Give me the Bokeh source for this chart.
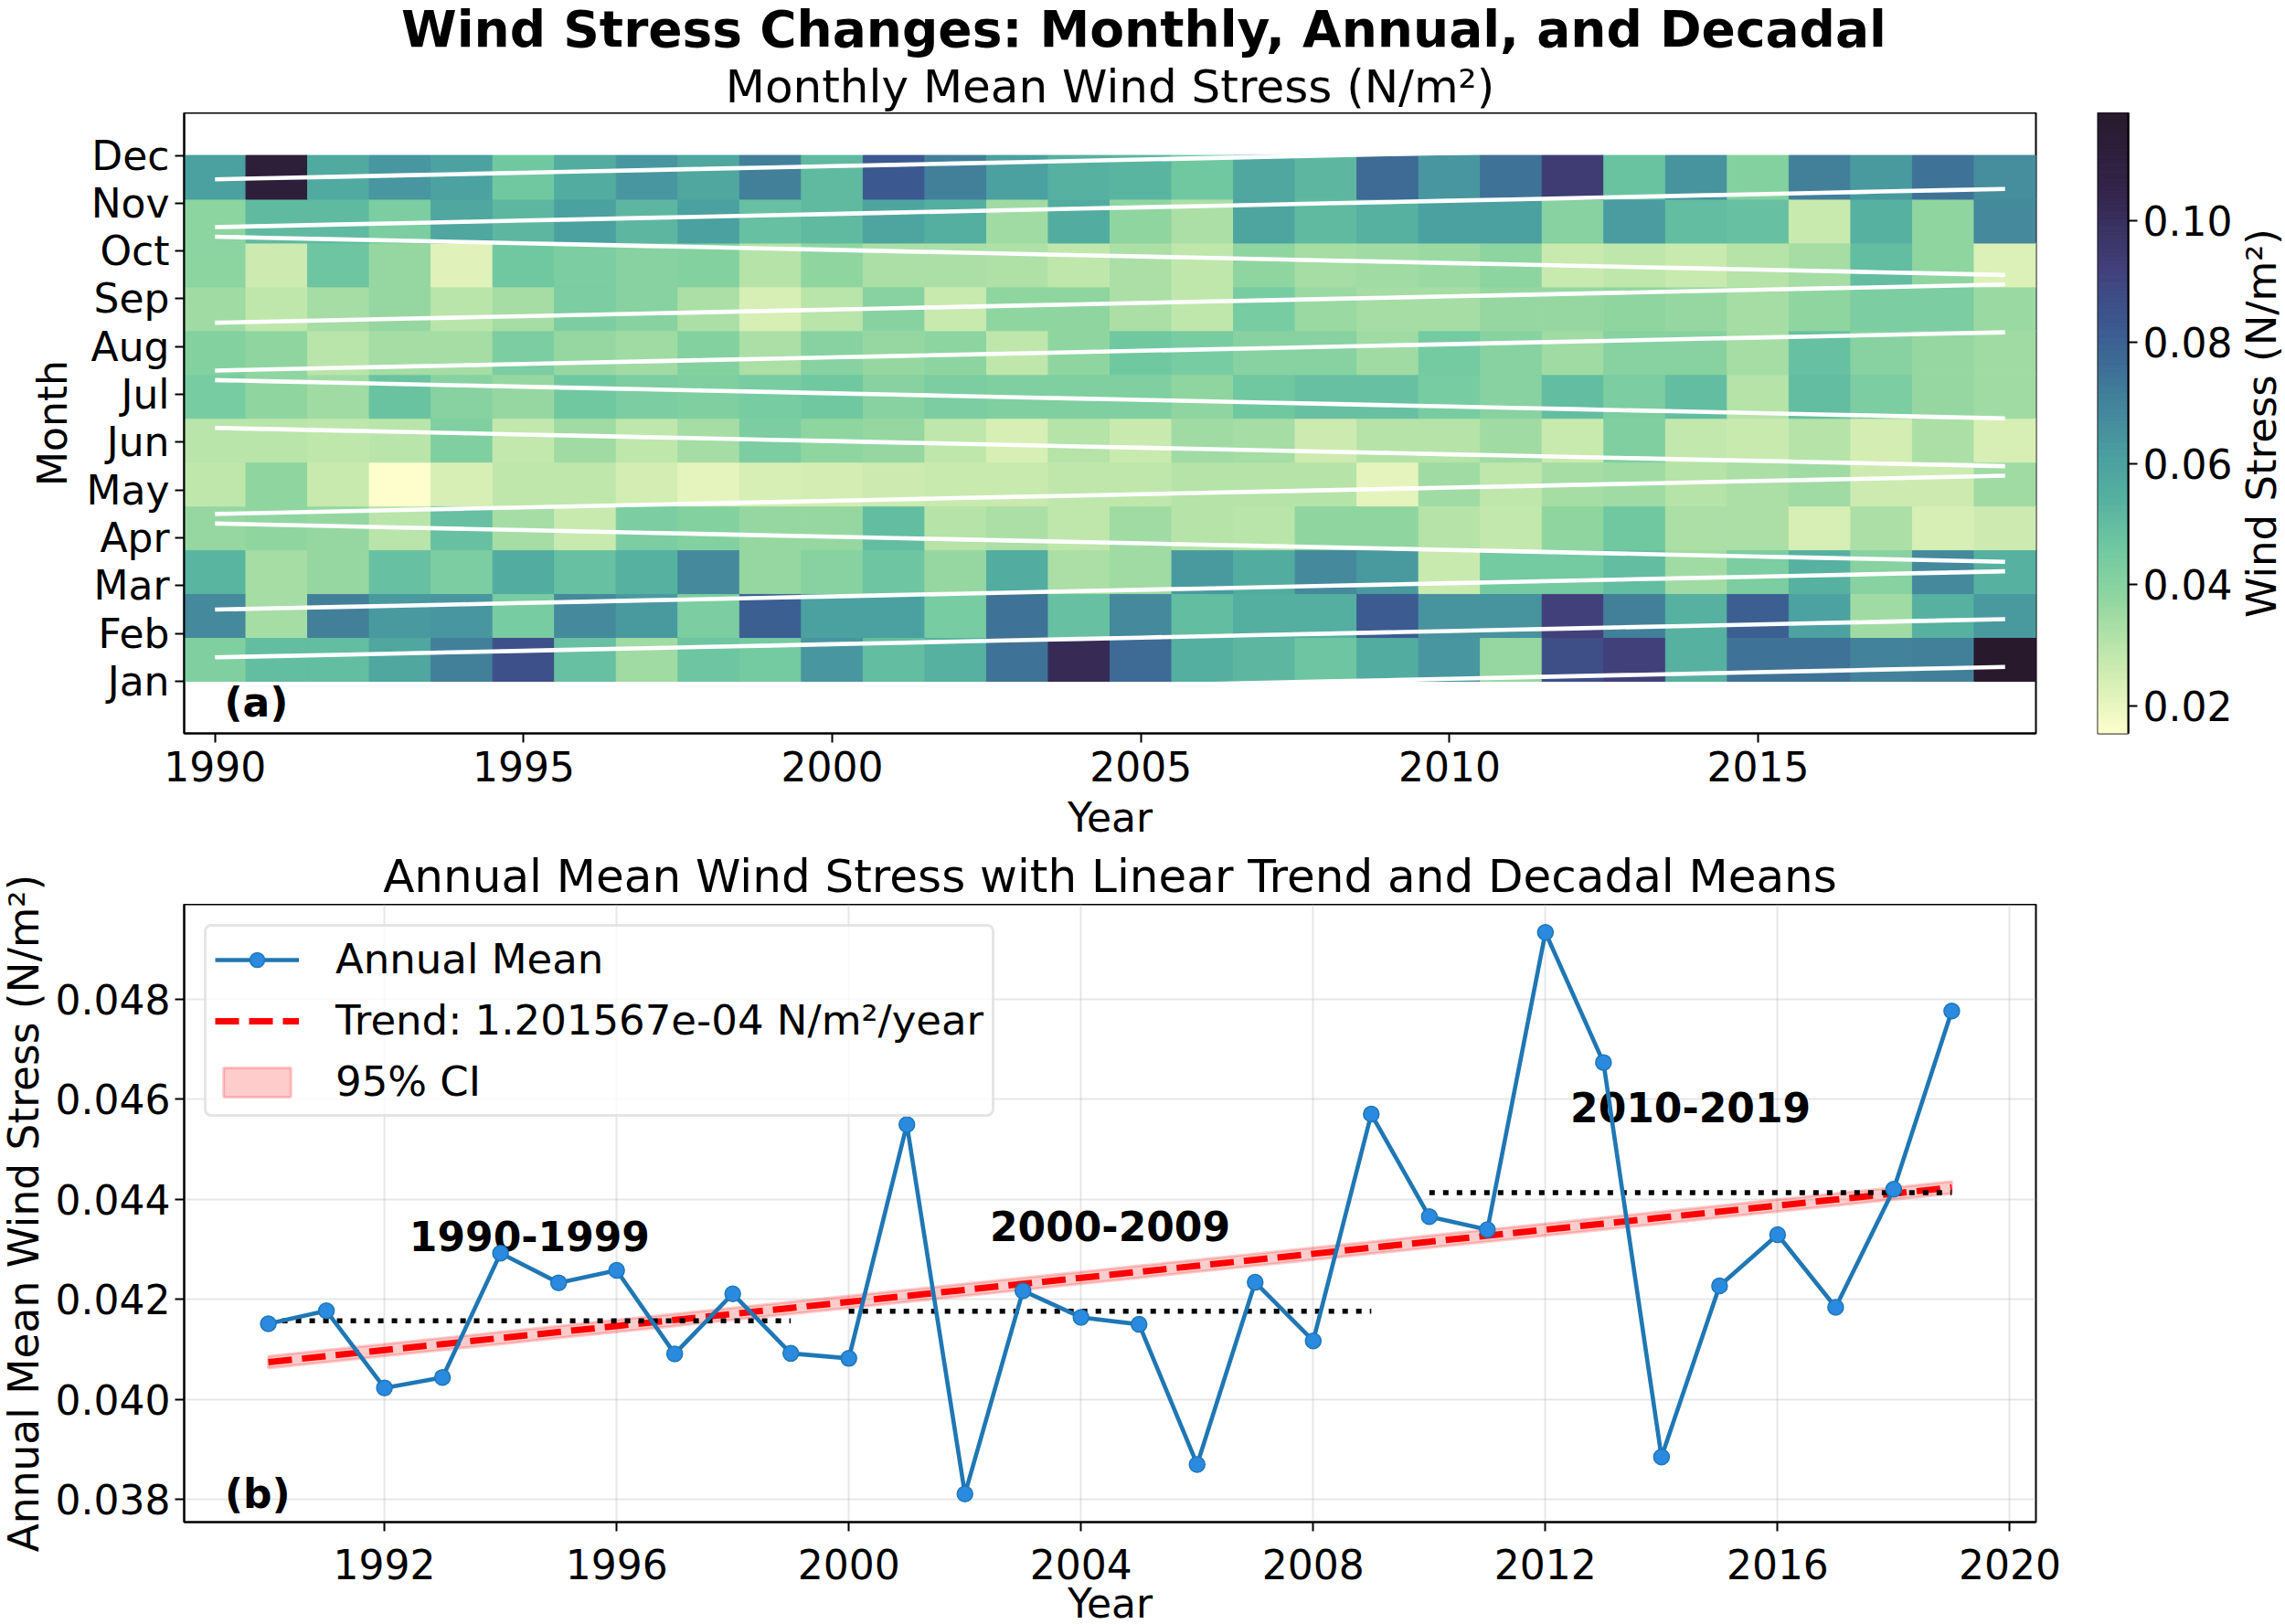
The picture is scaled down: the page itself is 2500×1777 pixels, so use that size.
import math
import numpy as np
from bokeh.plotting import figure
from bokeh.models import (Legend, LegendItem, FixedTicker, NumeralTickFormatter,
                          LinearColorMapper, ColumnDataSource)
from bokeh.layouts import row, column
from bokeh.embed import file_html
from bokeh.resources import INLINE
from bokeh.core.properties import value

FONT = "DejaVu Sans"

# ---------------- data ----------------
years = list(range(1990, 2020))
month_names = ["Jan", "Feb", "Mar", "Apr", "May", "Jun", "Jul", "Aug", "Sep", "Oct", "Nov", "Dec"]

stress_jan = [0.042, 0.050, 0.050, 0.058, 0.071, 0.086, 0.049, 0.035, 0.047, 0.045, 0.064, 0.050, 0.054, 0.075, 0.102,
              0.077, 0.055, 0.052, 0.047, 0.056, 0.064, 0.037, 0.087, 0.092, 0.054, 0.075, 0.075, 0.070, 0.071, 0.1178]
stress_feb = [0.068, 0.034, 0.071, 0.063, 0.064, 0.044, 0.068, 0.063, 0.043, 0.081, 0.061, 0.061, 0.044, 0.075, 0.049,
              0.068, 0.050, 0.055, 0.055, 0.082, 0.065, 0.065, 0.092, 0.071, 0.054, 0.081, 0.060, 0.035, 0.054, 0.063]
stress_mar = [0.053, 0.034, 0.037, 0.049, 0.043, 0.056, 0.049, 0.054, 0.068, 0.037, 0.040, 0.047, 0.037, 0.056, 0.033,
              0.035, 0.063, 0.056, 0.068, 0.063, 0.027, 0.045, 0.045, 0.050, 0.035, 0.043, 0.054, 0.040, 0.068, 0.054]
stress_apr = [0.037, 0.038, 0.037, 0.030, 0.049, 0.034, 0.027, 0.043, 0.041, 0.037, 0.037, 0.050, 0.031, 0.033, 0.029,
              0.035, 0.031, 0.030, 0.038, 0.038, 0.031, 0.028, 0.038, 0.046, 0.033, 0.033, 0.024, 0.033, 0.024, 0.026]
stress_may = [0.029, 0.038, 0.027, 0.0155, 0.024, 0.029, 0.029, 0.025, 0.021, 0.024, 0.025, 0.026, 0.027, 0.027, 0.029,
              0.029, 0.031, 0.031, 0.031, 0.021, 0.035, 0.029, 0.034, 0.035, 0.031, 0.033, 0.035, 0.026, 0.026, 0.035]
stress_jun = [0.030, 0.030, 0.029, 0.030, 0.042, 0.028, 0.035, 0.029, 0.034, 0.043, 0.038, 0.037, 0.029, 0.024, 0.031,
              0.027, 0.035, 0.034, 0.026, 0.031, 0.031, 0.035, 0.027, 0.042, 0.028, 0.027, 0.031, 0.025, 0.033, 0.024]
stress_jul = [0.044, 0.038, 0.035, 0.048, 0.040, 0.037, 0.046, 0.043, 0.042, 0.044, 0.046, 0.040, 0.043, 0.042, 0.042,
              0.042, 0.038, 0.046, 0.049, 0.049, 0.044, 0.040, 0.050, 0.043, 0.050, 0.031, 0.050, 0.043, 0.037, 0.035]
stress_aug = [0.041, 0.038, 0.030, 0.034, 0.034, 0.043, 0.037, 0.035, 0.041, 0.033, 0.040, 0.037, 0.039, 0.029, 0.038,
              0.046, 0.044, 0.040, 0.040, 0.035, 0.045, 0.040, 0.035, 0.040, 0.040, 0.034, 0.049, 0.040, 0.037, 0.035]
stress_sep = [0.035, 0.029, 0.034, 0.037, 0.030, 0.034, 0.043, 0.040, 0.033, 0.024, 0.030, 0.040, 0.027, 0.038, 0.038,
              0.033, 0.029, 0.044, 0.036, 0.034, 0.034, 0.037, 0.037, 0.038, 0.037, 0.034, 0.038, 0.043, 0.043, 0.036]
stress_oct = [0.039, 0.026, 0.047, 0.037, 0.022, 0.046, 0.043, 0.040, 0.041, 0.031, 0.038, 0.033, 0.033, 0.032, 0.029,
              0.033, 0.029, 0.038, 0.034, 0.035, 0.036, 0.039, 0.027, 0.029, 0.027, 0.031, 0.034, 0.050, 0.038, 0.023]
stress_nov = [0.039, 0.051, 0.051, 0.043, 0.058, 0.052, 0.061, 0.052, 0.061, 0.049, 0.051, 0.059, 0.055, 0.035, 0.056,
              0.038, 0.033, 0.059, 0.051, 0.054, 0.061, 0.061, 0.040, 0.062, 0.050, 0.049, 0.027, 0.054, 0.038, 0.068]
stress_dec = [0.061, 0.112, 0.057, 0.064, 0.060, 0.046, 0.056, 0.064, 0.058, 0.071, 0.051, 0.083, 0.071, 0.061, 0.054,
              0.053, 0.046, 0.058, 0.052, 0.077, 0.064, 0.075, 0.094, 0.048, 0.065, 0.041, 0.071, 0.063, 0.075, 0.067]
monthly = [stress_jan, stress_feb, stress_mar, stress_apr, stress_may, stress_jun,
           stress_jul, stress_aug, stress_sep, stress_oct, stress_nov, stress_dec]

# direction of each month's trend line (+1 rising, -1 falling)
month_trend_sign = [1, 1, 1, -1, 1, -1, -1, 1, 1, -1, 1, 1]

annual_mean = [0.04151, 0.04177, 0.04023, 0.04044, 0.04292, 0.04233, 0.04258, 0.04091, 0.04211, 0.04092,
               0.04082, 0.04549, 0.03811, 0.04217, 0.04164, 0.04150, 0.03870, 0.04234, 0.04117, 0.04570,
               0.04365, 0.04339, 0.04933, 0.04673, 0.03885, 0.04227, 0.04329, 0.04184, 0.04420, 0.04776]
ci_half_width = 0.00012
decade_starts = [1990, 2000, 2010]
decade_labels = ["1990-1999", "2000-2009", "2010-2019"]
trend_label = "Trend: 1.201567e-04 N/m²/year"
cbar_ticks = [0.02, 0.04, 0.06, 0.08, 0.10]
heat_xticks = [1990, 1995, 2000, 2005, 2010, 2015]
bot_xticks = [1992, 1996, 2000, 2004, 2008, 2012, 2016, 2020]
bot_yticks = [0.038, 0.040, 0.042, 0.044, 0.046, 0.048]

main_title = "Wind Stress Changes: Monthly, Annual, and Decadal"
title_a = "Monthly Mean Wind Stress (N/m²)"
title_b = "Annual Mean Wind Stress with Linear Trend and Decadal Means"
cbar_title = "Wind Stress (N/m²)"
ylabel_b = "Annual Mean Wind Stress (N/m²)"

# ---------------- colormap (deep-like) ----------------
deep_pos = [0.0, 0.08, 0.15, 0.22, 0.30, 0.38, 0.45, 0.52, 0.60, 0.66, 0.75, 0.88, 1.0]
deep_hex = ["#FDFECC", "#D8EFB4", "#B5E3A8", "#8FD5A0", "#6FC8A1", "#55B0A0", "#4A9EA0",
            "#44879C", "#3D6B95", "#3C5890", "#41407A", "#33244A", "#281A2C"]


def _rgb(h):
    return [int(h[k:k + 2], 16) for k in (1, 3, 5)]


_rgb_arr = np.array([_rgb(h) for h in deep_hex], dtype=float)
palette = []
for tt in np.linspace(0, 1, 256):
    c = [int(round(np.interp(tt, deep_pos, _rgb_arr[:, k]))) for k in range(3)]
    palette.append("#%02x%02x%02x" % tuple(c))

all_vals = [v for s in monthly for v in s]
vmin, vmax = min(all_vals), max(all_vals)
mapper = LinearColorMapper(palette=palette, low=vmin, high=vmax)


def style_axis(ax, standoff=6, label_standoff=5):
    ax.major_label_text_font = FONT
    ax.major_label_text_font_size = "44px"
    ax.major_label_text_color = "black"
    ax.axis_label_text_font = FONT
    ax.axis_label_text_font_size = "44px"
    ax.axis_label_text_font_style = "normal"
    ax.axis_label_text_color = "black"
    ax.axis_line_color = "black"
    ax.axis_line_width = 2
    ax.major_tick_line_color = "black"
    ax.major_tick_line_width = 2
    ax.major_tick_out = 10
    ax.major_tick_in = 0
    ax.minor_tick_line_color = None
    ax.major_label_standoff = standoff
    ax.axis_label_standoff = label_standoff


def text_canvas(width, height, x_range=None, y_range=None, **borders):
    """A blank figure used only to hold text (no axes, grid or outline)."""
    opts = dict(min_border=0)
    opts.update(borders)
    f = figure(width=width, height=height,
               x_range=x_range if x_range is not None else (0, width),
               y_range=y_range if y_range is not None else (0, height),
               x_axis_location=None, y_axis_location=None, toolbar_location=None,
               output_backend="svg", **opts)
    f.grid.visible = False
    f.outline_line_color = None
    return f


PAGE_W = 2500
PAGE_H = 1777
FRAME_L = 201
FRAME_W = 2026

# ---------------- header (main title + subtitle of panel a) ----------------
HEAD_H = 123
header = text_canvas(PAGE_W, HEAD_H)
header.text(x=[1251], y=[HEAD_H - 51 + 20], text=[main_title], text_font=value(FONT), text_font_size="55px",
            text_font_style="bold", text_align="center", text_baseline="alphabetic", text_color="black")
header.text(x=[FRAME_L + FRAME_W / 2], y=[HEAD_H - 108 + 14], text=[title_a], text_font=value(FONT),
            text_font_size="50px", text_align="center", text_baseline="alphabetic", text_color="black")

# ---------------- panel (a): heatmap ----------------
row_edges = np.linspace(0, 11, len(month_names) + 1)
lefts, rights, bottoms, tops, vals = [], [], [], [], []
for i, series in enumerate(monthly):
    for yr, v in zip(years, series):
        lefts.append(yr - 0.5)
        rights.append(yr + 0.5)
        bottoms.append(row_edges[i])
        tops.append(row_edges[i + 1])
        vals.append(v)
heat_src = ColumnDataSource(dict(left=lefts, right=rights, bottom=bottoms, top=tops, value=vals))

mid_year = (years[0] + years[-1]) / 2.0
half_span = (years[-1] - years[0]) / 2.0
line_xs = [list(years) for _ in month_names]
line_ys = [[i - 0.1 + 0.4 * s * (yr - mid_year) / half_span for yr in years]
           for i, s in enumerate(month_trend_sign)]
ylo = min(min(l) for l in line_ys)
yhi = max(max(l) for l in line_ys)
ypad = 0.05 * (yhi - ylo)

HEAT_H = 806
HEAT_BOTTOM = 127
heat = figure(width=2262, height=HEAT_H, x_range=(years[0] - 0.5, years[-1] + 0.5),
              y_range=(ylo - ypad, yhi + ypad), toolbar_location=None, output_backend="svg",
              min_border_left=FRAME_L, min_border_right=2262 - FRAME_L - FRAME_W,
              min_border_top=0, min_border_bottom=HEAT_BOTTOM)
heat.quad(left="left", right="right", bottom="bottom", top="top", source=heat_src,
          fill_color={"field": "value", "transform": mapper},
          line_color={"field": "value", "transform": mapper}, line_width=1)
heat.multi_line(line_xs, line_ys, line_color="white", line_width=4.6)
heat.text(x=[1990.15], y=[-0.44], text=["(a)"], text_font=value(FONT), text_font_size="44px",
          text_font_style="bold", text_align="left", text_baseline="alphabetic", text_color="black")
heat.grid.visible = False
heat.outline_line_color = "black"
heat.outline_line_width = 2
heat.outline_line_alpha = 1
style_axis(heat.xaxis[0], standoff=9, label_standoff=11)
style_axis(heat.yaxis[0], standoff=6, label_standoff=9)
heat.xaxis.ticker = FixedTicker(ticks=heat_xticks)
heat.yaxis.ticker = FixedTicker(ticks=list(range(12)))
heat.yaxis.major_label_overrides = {i: m for i, m in enumerate(month_names)}
heat.xaxis.axis_label = "Year"
heat.yaxis.axis_label = "Month"

# ---------------- colorbar ----------------
cbar = figure(width=183, height=HEAT_H, x_range=(0, 1), y_range=(vmin, vmax),
              x_axis_location=None, y_axis_location="right", toolbar_location=None,
              output_backend="svg", min_border_left=33, min_border_right=116,
              min_border_top=0, min_border_bottom=HEAT_BOTTOM)
levels = np.linspace(vmin, vmax, len(palette) + 1)
cbar.quad(left=0, right=1, bottom=levels[:-1], top=levels[1:], fill_color=palette,
          line_color=palette, line_width=1)
cbar.grid.visible = False
cbar.outline_line_color = "black"
cbar.outline_line_width = 2
cbar.outline_line_alpha = 1
style_axis(cbar.yaxis[0], standoff=6)
cbar.yaxis.ticker = FixedTicker(ticks=cbar_ticks)
cbar.yaxis.formatter = NumeralTickFormatter(format="0.00")

# colorbar label: its frame lines up with the colorbar's frame
cbar_lab = text_canvas(55, HEAT_H, x_range=(0, 55), y_range=(vmin, vmax),
                       min_border_top=0, min_border_bottom=HEAT_BOTTOM)
cbar_lab.text(x=[29], y=[(vmin + vmax) / 2.0], text=[cbar_title], angle=math.pi / 2,
              text_font=value(FONT), text_font_size="45px", text_align="center",
              text_baseline="middle", text_color="black")

# ---------------- lower section ----------------
LEFT_W = 52
INNER_W = PAGE_W - LEFT_W
TITLE_B_H = 60
BOT_BOTTOM = 12
BOT_H = 676 + BOT_BOTTOM
XLAB_H = PAGE_H - (HEAD_H + HEAT_H + TITLE_B_H + BOT_H)
LOWER_H = TITLE_B_H + BOT_H + XLAB_H
inner_left = FRAME_L - LEFT_W
inner_right = INNER_W - inner_left - FRAME_W

xr0, xr1 = years[0], years[-1]
xpad = 0.05 * (xr1 - xr0)
bx_range = (xr0 - xpad, xr1 + xpad)
bx_mid = (bx_range[0] + bx_range[1]) / 2.0

title_b_fig = text_canvas(INNER_W, TITLE_B_H, x_range=bx_range, y_range=(0, TITLE_B_H),
                          min_border_left=inner_left, min_border_right=inner_right)
title_b_fig.text(x=[bx_mid], y=[TITLE_B_H - 47 + 18], text=[title_b], text_font=value(FONT),
                 text_font_size="50px", text_align="center", text_baseline="alphabetic",
                 text_color="black")

left_lab = text_canvas(LEFT_W, LOWER_H)
left_lab.text(x=[26], y=[LOWER_H - (1327 - (HEAD_H + HEAT_H))], text=[ylabel_b], angle=math.pi / 2,
              text_font=value(FONT), text_font_size="45.5px", text_align="center",
              text_baseline="middle", text_color="black")

# x tick labels and x label of panel (b): a full-width canvas sharing panel (b)'s x scale
px_per_year = FRAME_W / (bx_range[1] - bx_range[0])
xlab_range = (bx_range[0] - inner_left / px_per_year, bx_range[1] + inner_right / px_per_year)
xlab_fig = text_canvas(INNER_W, XLAB_H, x_range=xlab_range, y_range=(0, XLAB_H))
xlab_fig.text(x=bot_xticks, y=[XLAB_H - (1722 - (PAGE_H - XLAB_H)) + 11] * len(bot_xticks),
              text=[str(t) for t in bot_xticks], text_font=value(FONT), text_font_size="44px",
              text_align="center", text_baseline="alphabetic", text_color="black")
xlab_fig.text(x=[bx_mid], y=[PAGE_H - 1765 + 11], text=["Year"], text_font=value(FONT),
              text_font_size="44px", text_align="center", text_baseline="alphabetic",
              text_color="black")

# ---------------- panel (b): annual means ----------------
ymin_a, ymax_a = min(annual_mean), max(annual_mean)
ypad_a = 0.05 * (ymax_a - ymin_a)

bot = figure(width=INNER_W, height=BOT_H, x_range=bx_range,
             y_range=(ymin_a - ypad_a, ymax_a + ypad_a), toolbar_location=None,
             output_backend="svg", min_border_left=inner_left, min_border_right=inner_right,
             min_border_top=0, min_border_bottom=BOT_BOTTOM)

yrs = np.array(years, dtype=float)
am = np.array(annual_mean)
slope, intercept = np.polyfit(yrs, am, 1)
trend = slope * yrs + intercept
upper = trend + ci_half_width
lower = trend - ci_half_width

band = bot.patch(x=list(yrs) + list(yrs[::-1]), y=list(upper) + list(lower[::-1]),
                 fill_color="red", fill_alpha=0.2, line_color="red", line_alpha=0.2, line_width=3)
trend_r = bot.line(yrs, trend, line_color="red", line_width=7, line_dash="26 11")

dec_x0, dec_x1, dec_mean, dec_mid = [], [], [], []
for d0 in decade_starts:
    sel = [(y, v) for y, v in zip(years, annual_mean) if d0 <= y <= d0 + 9]
    ys_ = [y for y, _ in sel]
    vs_ = [v for _, v in sel]
    dec_x0.append(min(ys_))
    dec_x1.append(max(ys_))
    dec_mean.append(sum(vs_) / len(vs_))
    dec_mid.append((min(ys_) + max(ys_)) / 2.0)
bot.segment(x0=dec_x0, x1=dec_x1, y0=dec_mean, y1=dec_mean, line_color="black",
            line_width=5.5, line_dash="6 9")
bot.text(x=dec_mid, y=[m + 0.0017 for m in dec_mean], text=decade_labels,
         text_font=value(FONT), text_font_size="44px", text_font_style="bold",
         text_align="center", text_baseline="alphabetic", text_color="black")

ann_line = bot.line(years, annual_mean, line_color="#1f77b4", line_width=4.6)
ann_pts = bot.scatter(years, annual_mean, size=17, fill_color="#2a8ae0", line_color="#1f77b4",
                      line_width=1.5)
bot.text(x=[1989.25], y=[0.03812], text=["(b)"], text_font=value(FONT), text_font_size="44px",
         text_font_style="bold", text_align="left", text_baseline="alphabetic", text_color="black")

bot.grid.grid_line_color = "#b0b0b0"
bot.grid.grid_line_alpha = 0.3
bot.grid.grid_line_width = 2
bot.outline_line_color = "black"
bot.outline_line_width = 2
bot.outline_line_alpha = 1
style_axis(bot.xaxis[0], standoff=0, label_standoff=0)
bot.xaxis.major_label_text_font_size = "0px"
bot.xaxis.major_label_overrides = {t: "" for t in bot_xticks}
style_axis(bot.yaxis[0], standoff=5, label_standoff=0)
bot.xaxis.ticker = FixedTicker(ticks=bot_xticks)
bot.yaxis.ticker = FixedTicker(ticks=bot_yticks)
bot.yaxis.formatter = NumeralTickFormatter(format="0.000")

legend = Legend(items=[LegendItem(label="Annual Mean", renderers=[ann_line, ann_pts]),
                       LegendItem(label=trend_label, renderers=[trend_r]),
                       LegendItem(label="95% CI", renderers=[band])],
                location="top_left")
legend.label_text_font = FONT
legend.label_text_font_size = "45px"
legend.label_text_color = "black"
legend.glyph_width = 92
legend.glyph_height = 40
legend.label_standoff = 40
legend.padding = 9
legend.spacing = 14
legend.margin = 22
legend.border_line_color = "#cccccc"
legend.border_line_width = 3
legend.background_fill_alpha = 0.8
try:
    legend.border_radius = 8
except Exception:
    pass
bot.add_layout(legend)

layout = column(header, row(heat, cbar, cbar_lab),
                row(left_lab, column(title_b_fig, bot, row(xlab_fig))))
open("out.html", "w").write(file_html(layout, INLINE))
